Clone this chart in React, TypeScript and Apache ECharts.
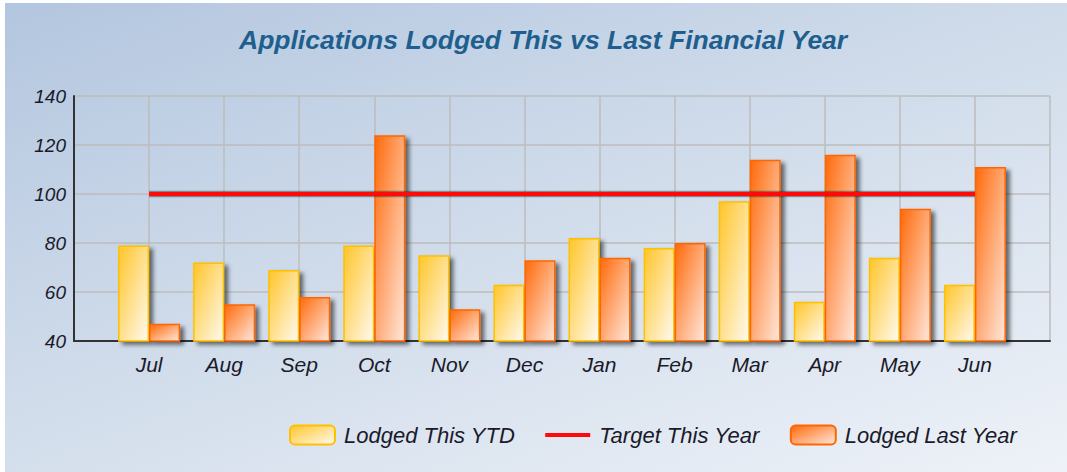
import React, { useEffect, useRef } from "react";
import * as echarts from "echarts";

const months = ["Jul", "Aug", "Sep", "Oct", "Nov", "Dec", "Jan", "Feb", "Mar", "Apr", "May", "Jun"];
const lodgedThisYTD = [79, 72, 69, 79, 75, 63, 82, 78, 97, 56, 74, 63];
const targetThisYear = [100, 100, 100, 100, 100, 100, 100, 100, 100, 100, 100, 100];
const lodgedLastYear = [47, 55, 58, 124, 53, 73, 74, 80, 114, 116, 94, 111];
const yTicks = { min: 40, max: 140, interval: 20 };

const pad = (a: (number | string)[]) => ["-", ...a, "-"];

export default function App() {
  const ref = useRef<HTMLDivElement>(null);
  useEffect(() => {
    document.body.style.margin = "0";
    const chart = echarts.init(ref.current!, null, { renderer: "svg" });
    const font = "'Liberation Sans', Arial, sans-serif";
    const yellow = new echarts.graphic.LinearGradient(0, 0, 1, 1, [
      { offset: 0, color: "#FFC52A" },
      { offset: 1, color: "#FFFAF0" },
    ]);
    const orange = new echarts.graphic.LinearGradient(0, 0, 1, 1, [
      { offset: 0, color: "#FF6A0A" },
      { offset: 1, color: "#FFE8DE" },
    ]);
    const barShadow = {
      shadowColor: "rgba(0,0,0,0.55)",
      shadowBlur: 4,
      shadowOffsetX: 4,
      shadowOffsetY: 3,
    };
    chart.setOption({
      animation: false,
      title: {
        text: "Applications Lodged This vs Last Financial Year",
        left: 229,
        top: 18,
        textStyle: {
          fontFamily: font,
          fontSize: 26.5,
          fontStyle: "italic",
          fontWeight: "bold",
          color: "#1E5F8E",
        },
      },
      legend: {
        left: 279,
        top: 416,
        itemWidth: 45,
        itemHeight: 19,
        itemGap: 30,
        textStyle: {
          fontFamily: font,
          fontSize: 22,
          fontStyle: "italic",
          color: "#1a1a2a",
          padding: [0, 0, 0, 4],
        },
        data: [
          "Lodged This YTD",
          { name: "Target This Year", icon: "path://M0,0H45V4H0Z" },
          "Lodged Last Year",
        ],
      },
      grid: { left: 69, right: 17, top: 93, bottom: 131, containLabel: false },
      xAxis: {
        type: "category",
        boundaryGap: false,
        data: ["", ...months, ""],
        axisLine: { lineStyle: { color: "#333", width: 2 } },
        axisTick: { show: false },
        axisLabel: {
          margin: 13,
          fontFamily: font,
          fontSize: 21,
          fontStyle: "italic",
          color: "#1a1a2a",
        },
        splitLine: { show: true, lineStyle: { color: "#BDBDBD", width: 1.5 } },
      },
      yAxis: {
        type: "value",
        min: yTicks.min,
        max: yTicks.max,
        interval: yTicks.interval,
        axisLine: { show: true, lineStyle: { color: "#333", width: 2 } },
        axisTick: { show: false },
        axisLabel: {
          margin: 8,
          fontFamily: font,
          fontSize: 19,
          fontStyle: "italic",
          color: "#1a1a2a",
        },
        splitLine: { show: true, lineStyle: { color: "#BDBDBD", width: 1.5 } },
      },
      series: [
        {
          name: "Lodged This YTD",
          type: "bar",
          barWidth: 31,
          barGap: "0%",
          data: pad(lodgedThisYTD),
          itemStyle: { color: yellow, borderColor: "#FFC000", borderWidth: 1.5, ...barShadow },
          z: 2,
        },
        {
          name: "Target This Year",
          type: "line",
          data: pad(targetThisYear),
          symbol: "none",
          lineStyle: { color: "#FF0A0A", width: 4 },
          itemStyle: { color: "#FF0A0A" },
          z: 6,
        },
        {
          name: "Lodged Last Year",
          type: "bar",
          barWidth: 31,
          barGap: "0%",
          data: pad(lodgedLastYear),
          itemStyle: { color: orange, borderColor: "#FF6600", borderWidth: 1.5, ...barShadow },
          z: 2,
        },
        {
          name: "target-shadow",
          type: "line",
          data: pad(targetThisYear),
          symbol: "none",
          silent: true,
          lineStyle: { color: "rgba(40,40,40,0.45)", width: 6.5 },
          z: 5,
        },
      ],
    });
    return () => chart.dispose();
  }, []);
  return (
    <div style={{ position: "fixed", left: 0, top: 0, width: 1067, height: 472, background: "#ffffff" }}>
      <div
        ref={ref}
        style={{
          position: "absolute",
          left: 5,
          top: 3,
          width: 1062,
          height: 469,
          background: "linear-gradient(160deg, #B3C6DF 0%, #CFDBEA 45%, #EEF2F8 100%)",
        }}
      />
    </div>
  );
}
